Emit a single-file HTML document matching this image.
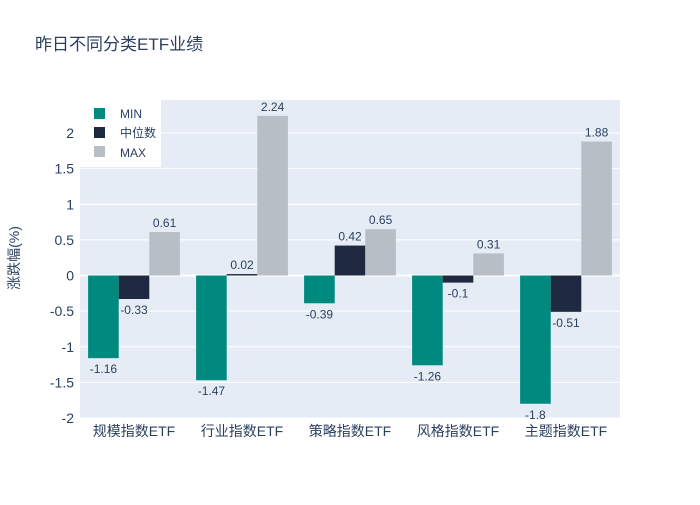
<!DOCTYPE html>
<html><head><meta charset="utf-8"><style>
body{margin:0;background:#fff;}
svg text{font-family:"Liberation Sans","Noto Sans CJK SC",sans-serif;}
</style></head><body>
<svg id="chart" width="700" height="500">
<text x="35" y="50" font-size="17" fill="#2a3f5f">昨日不同分类ETF业绩</text>
<rect x="80" y="100" width="540" height="318" fill="#e5ecf6"/>
<g id="grid"></g><g id="bars"></g><g id="labels"></g><g id="axes"></g>
<text transform="translate(19,258) rotate(-90)" text-anchor="middle" font-size="14" fill="#2a3f5f">涨跌幅(%)</text>
<g>
<rect x="80" y="100" width="81" height="67" fill="#fff"/>
<rect x="94" y="108" width="11" height="11" fill="#00897f"/>
<text x="120" y="118" font-size="12" fill="#2a3f5f">MIN</text>
<rect x="94" y="127" width="11" height="11" fill="#1f2a40"/>
<text x="120" y="137" font-size="12" fill="#2a3f5f">中位数</text>
<rect x="94" y="146" width="11" height="11" fill="#b8bec6"/>
<text x="120" y="157" font-size="12" fill="#2a3f5f">MAX</text>
</g>
</svg>
<script>
const categories=["规模指数ETF","行业指数ETF","策略指数ETF","风格指数ETF","主题指数ETF"];
const minValues=[-1.16,-1.47,-0.39,-1.26,-1.8];
const medianValues=[-0.33,0.02,0.42,-0.1,-0.51];
const maxValues=[0.61,2.24,0.65,0.31,1.88];
const yTicks=[-2,-1.5,-1,-0.5,0,0.5,1,1.5,2];
const seriesNames=["min","median","max"];
const colors=["#00897f","#1f2a40","#b8bec6"];
const NS="http://www.w3.org/2000/svg";
const x0=80,x1=620,yTop=100,yBot=418,vMax=2.4632,vMin=-2;
function y(v){return yBot-(v-vMin)/(vMax-vMin)*(yBot-yTop);}
const band=(x1-x0)/categories.length;
function bx(i,s){return x0+band*i+band*0.075+s*band*0.85/3;}
const bw=band*0.85/3;
function mk(tag,attrs,parent){const e=document.createElementNS(NS,tag);for(const k in attrs)e.setAttribute(k,attrs[k]);document.getElementById(parent).appendChild(e);return e;}
yTicks.forEach(t=>{
 const l=mk("line",{x1:x0,x2:x1,y1:y(t),y2:y(t),stroke:"#fff","stroke-width":t===0?2:1},"grid");
 
 
 const tx=mk("text",{x:74,y:y(t)+5,"text-anchor":"end","font-size":14,fill:"#2a3f5f"},"axes");
 tx.textContent=String(t);
 
 
});
categories.forEach((c,i)=>{
 const tx=mk("text",{x:x0+band*(i+0.5),y:436,"text-anchor":"middle","font-size":14,fill:"#2a3f5f"},"axes");
 tx.textContent=c;
 
 
});
[minValues,medianValues,maxValues].forEach((vals,s)=>{
 vals.forEach((v,i)=>{
  const top=Math.min(y(v),y(0)),h=Math.abs(y(v)-y(0));
  const r=mk("rect",{x:bx(i,s),y:top,width:bw,height:h,fill:colors[s]},"bars");
  
  
  const ty=v>=0?y(v)-5:y(v)+15;
  const tx=mk("text",{x:bx(i,s)+bw/2,y:ty,"text-anchor":"middle","font-size":12,fill:"#2a3f5f"},"labels");
  tx.textContent=String(v);
  
  
 });
});
</script>
</body></html>
